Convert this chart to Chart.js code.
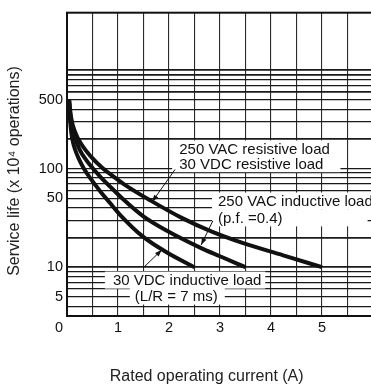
<!DOCTYPE html>
<html><head><meta charset="utf-8">
<script src="https://cdn.jsdelivr.net/npm/chart.js@4"></script>
<style>
html,body{margin:0;padding:0;overflow:hidden;background:#fff;}
#wrap{width:380px;height:385px;position:relative;}
</style></head><body>
<div id="wrap"><canvas id="c" width="380" height="385"></canvas></div>
<script>
// ---- data ----
const resistiveX   = [0.04, 0.08, 0.16, 0.29, 0.47, 0.69, 0.94, 1.18, 1.65, 2.25, 2.84, 3.47, 4.24, 5.0];
const resistiveY   = [500,  331,  234,  174,  132,  102,  81,   66,   47,   31.6, 22.9, 17.4, 13.2, 10];
const acInductiveX = [0.04, 0.06, 0.1,  0.16, 0.25, 0.37, 0.51, 0.65, 0.84, 1.08, 1.49, 1.96, 2.61, 3.0,  3.5];
const acInductiveY = [500,  372,  269,  204,  155,  123,  100,  83,   66,   50,   33,   23.4, 15.8, 12.9, 10];
const dcInductiveX = [0.04, 0.05, 0.07, 0.1,  0.16, 0.24, 0.33, 0.47, 0.65, 0.84, 1.04, 1.49, 1.96, 2.5];
const dcInductiveY = [500,  372,  269,  204,  155,  123,  100,  78,   59,   45,   34,   20.4, 14.1, 10];

const xGridValues  = [0,0.5,1,1.5,2,2.5,3,3.5,4,4.5,5,5.5,6];
const xLabelValues = [0,1,2,3,4,5];
const yGridValues  = [4,5,6,7,8,9,10,20,30,40,50,60,70,80,90,100,200,300,400,500,600,700,800,900,1000];
const yLabelValues = [5,10,50,100,500];

const xTitle = 'Rated operating current (A)';
const yTitle = 'Service life (x 10\u2074 operations)';

// annotation texts, anchored in data units (left edge, vertical middle)
const notes = [
  {text:'250 VAC resistive load', x:2.2,  y:158,  padL:7, padR:10},
  {text:'30 VDC resistive load',  x:2.2,  y:112,  padL:7, padR:17},
  {text:'250 VAC inductive load', x:2.96, y:46.8, padL:6, padR:20},
  {text:'(p.f. =0.4)',            x:2.96, y:31.6, padL:6, padR:85},
  {text:'30 VDC inductive load',  x:0.9,  y:7.4,  padL:8, padR:4},
  {text:'(L/R = 7 ms)',           x:1.33, y:5.1,  padL:5, padR:7}
];
const leaders = [
  {from:[2.12, 98],  to:[1.67, 46]},
  {from:[2.86, 29.5],to:[2.63, 16.8]},
  {from:[1.49, 9.8], to:[1.86, 15]}
];

// ---- chart ----
const FONT = 'Liberation Sans, Arial, Helvetica, sans-serif';
Chart.defaults.font.family = FONT;
Chart.defaults.color = '#111';

const toPts = (xs, ys) => xs.map((x, i) => ({x, y: ys[i]}));
const curveStyle = {borderColor:'#111', borderWidth:4, pointRadius:0, cubicInterpolationMode:'monotone', fill:false, borderCapStyle:'butt'};

const annot = {
  id:'annot',
  beforeDatasetsDraw(chart){
    const {ctx, scales:{x, y}} = chart;
    ctx.save();
    ctx.font = '15px ' + FONT;
    ctx.textBaseline = 'middle';
    ctx.textAlign = 'left';
    notes.forEach(n => {
      const px = x.getPixelForValue(n.x), py = y.getPixelForValue(n.y);
      const w = ctx.measureText(n.text).width;
      ctx.fillStyle = '#fff';
      ctx.fillRect(px - n.padL, py - 8.5, w + n.padL + n.padR, 17);
    });
    ctx.fillStyle = '#111';
    notes.forEach(n => {
      ctx.fillText(n.text, x.getPixelForValue(n.x), y.getPixelForValue(n.y) + 1);
    });
    ctx.restore();
  },
  afterDatasetsDraw(chart){
    const {ctx, chartArea:a, scales:{x, y}} = chart;
    ctx.save();
    ctx.strokeStyle = '#111';
    ctx.fillStyle = '#111';
    ctx.lineWidth = 1;
    leaders.forEach(l => {
      const x1 = x.getPixelForValue(l.from[0]), y1 = y.getPixelForValue(l.from[1]);
      const x2 = x.getPixelForValue(l.to[0]),   y2 = y.getPixelForValue(l.to[1]);
      ctx.beginPath(); ctx.moveTo(x1, y1); ctx.lineTo(x2, y2); ctx.stroke();
      const ang = Math.atan2(y2 - y1, x2 - x1);
      ctx.beginPath();
      ctx.moveTo(x2, y2);
      ctx.lineTo(x2 - 7*Math.cos(ang) + 2.5*Math.sin(ang), y2 - 7*Math.sin(ang) - 2.5*Math.cos(ang));
      ctx.lineTo(x2 - 7*Math.cos(ang) - 2.5*Math.sin(ang), y2 - 7*Math.sin(ang) + 2.5*Math.cos(ang));
      ctx.closePath(); ctx.fill();
    });
    ctx.lineWidth = 2;
    ctx.strokeRect(a.left, a.top, a.right - a.left, a.bottom - a.top);
    ctx.restore();
  }
};

new Chart(document.getElementById('c'), {
  type:'line',
  data:{datasets:[
    Object.assign({label:'250 VAC / 30 VDC resistive load', data:toPts(resistiveX, resistiveY)}, curveStyle),
    Object.assign({label:'250 VAC inductive load (p.f. =0.4)', data:toPts(acInductiveX, acInductiveY)}, curveStyle),
    Object.assign({label:'30 VDC inductive load (L/R = 7 ms)', data:toPts(dcInductiveX, dcInductiveY)}, curveStyle)
  ]},
  options:{
    responsive:false, animation:false, events:[],
    layout:{padding:{left:0, top:9, right:7, bottom:0}},
    plugins:{legend:{display:false}, tooltip:{enabled:false}},
    scales:{
      x:{
        type:'linear', min:0, max:6,
        afterBuildTicks: s => { s.ticks = xGridValues.map(v => ({value:v})); },
        afterFit: s => { s.height = 69; },
        ticks:{
          callback: v => xLabelValues.includes(v) ? (v === 0 ? '0    ' : String(v)) : '',
          font:{size:14.5}, color:'#111', padding:3, maxRotation:0, autoSkip:false
        },
        grid:{drawTicks:false, color:'#2a2a2a', lineWidth:1.1},
        border:{display:false},
        title:{display:true, text:xTitle + '      ', font:{size:16, lineHeight:1}, color:'#222', padding:{top:0, bottom:0}}
      },
      y:{
        type:'logarithmic', min:3.2, max:3800,
        afterBuildTicks: s => { s.ticks = yGridValues.map(v => ({value:v})); },
        afterFit: s => { s.width = 67; },
        ticks:{
          callback: v => yLabelValues.includes(v) ? String(v) : '',
          font:{size:14.5}, color:'#111', padding:4, autoSkip:false, maxRotation:0
        },
        grid:{drawTicks:false, color:'#1a1a1a',
          lineWidth: c => (c.tick && [10,20,200,600,900,1000].includes(c.tick.value)) ? 1.8 : 1.2},
        border:{display:false},
        title:{display:true, text:yTitle + '   ', font:{size:16, lineHeight:1}, color:'#222', padding:{top:7, bottom:0}}
      }
    }
  },
  plugins:[annot]
});
</script>
</body></html>
